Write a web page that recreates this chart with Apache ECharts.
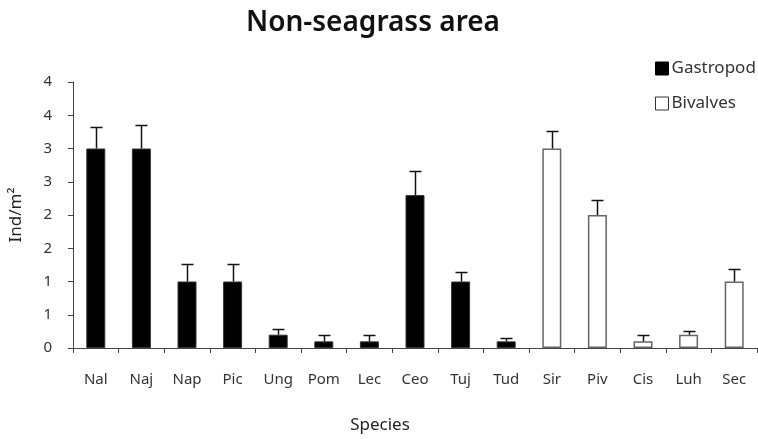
<!DOCTYPE html>
<html>
<head>
<meta charset="utf-8">
<script src="https://cdn.jsdelivr.net/npm/echarts@6/dist/echarts.min.js"></script>
<style>
  html, body { margin: 0; padding: 0; background: #fff; }
  #chart { width: 758px; height: 439px; }
</style>
</head>
<body>
<div id="chart"></div>
<script>
// species codes along x
var categories = ['Nal', 'Naj', 'Nap', 'Pic', 'Ung', 'Pom', 'Lec', 'Ceo', 'Tuj', 'Tud', 'Sir', 'Piv', 'Cis', 'Luh', 'Sec'];
// mean density (Ind/m2)
var gastropod = [3.0, 3.0, 1.0, 1.0, 0.2, 0.1, 0.1, 2.3, 1.0, 0.1, '-', '-', '-', '-', '-'];
var bivalves = ['-', '-', '-', '-', '-', '-', '-', '-', '-', '-', 3.0, 2.0, 0.1, 0.2, 1.0];
// error bar (upper half only)
var errors = [0.33, 0.36, 0.27, 0.26, 0.09, 0.1, 0.1, 0.36, 0.14, 0.05, 0.26, 0.22, 0.1, 0.06, 0.19];

var FONT = '"Noto Sans", "Open Sans", sans-serif';

function meanAt(i) {
  return gastropod[i] !== '-' ? gastropod[i] : bivalves[i];
}

var errData = categories.map(function (c, i) {
  return [i, meanAt(i), errors[i]];
});

var chart = echarts.init(document.getElementById('chart'));
chart.setOption({
  animation: false,
  title: {
    text: 'Non-seagrass area',
    left: 368,
    textAlign: 'center',
    top: 4,
    textStyle: { fontFamily: FONT, fontSize: 28, fontWeight: 600, color: '#111' }
  },
  legend: {
    orient: 'vertical',
    left: 650,
    top: 55,
    itemWidth: 13,
    itemHeight: 13,
    itemGap: 18,
    textStyle: { fontFamily: FONT, fontSize: 17, color: '#333', padding: [0, 0, 0, -2] },
    data: [
      { name: 'Gastropod', icon: 'rect', itemStyle: { color: '#000', borderColor: '#000', borderWidth: 1 } },
      { name: 'Bivalves', icon: 'rect', itemStyle: { color: '#fff', borderColor: '#333', borderWidth: 1 } }
    ]
  },
  grid: { left: 71, right: 1, top: 82, bottom: 83 },
  xAxis: {
    type: 'category',
    data: categories,
    name: 'Species',
    nameLocation: 'middle',
    nameGap: 69,
    nameTextStyle: { fontFamily: FONT, fontSize: 17, color: '#222', padding: [0, 70, 0, 0] },
    axisLine: { lineStyle: { color: '#444', width: 1 } },
    axisTick: { show: true, length: 5, lineStyle: { color: '#444' } },
    axisLabel: { fontFamily: FONT, fontSize: 15, color: '#333', margin: 24 }
  },
  yAxis: {
    type: 'value',
    min: 0,
    max: 4,
    interval: 0.5,
    name: 'Ind/m²',
    nameLocation: 'middle',
    nameGap: 48,
    nameRotate: 90,
    nameTextStyle: { fontFamily: FONT, fontSize: 17, color: '#222' },
    splitLine: { show: false },
    axisLine: { show: true, lineStyle: { color: '#444', width: 1 } },
    axisTick: { show: true, length: 5, lineStyle: { color: '#444' } },
    axisLabel: {
      fontFamily: FONT, fontSize: 15, color: '#333', margin: 21,
      formatter: function (v) { return String(Math.round(v)); }
    }
  },
  series: [
    {
      name: 'Gastropod',
      type: 'bar',
      data: gastropod,
      barWidth: 19,
      barGap: '-100%',
      itemStyle: { color: '#000', borderColor: '#333', borderWidth: 1 }
    },
    {
      name: 'Bivalves',
      type: 'bar',
      data: bivalves,
      barWidth: 19,
      itemStyle: { color: '#fff', borderColor: '#666', borderWidth: 1.5 }
    },
    {
      name: 'err',
      type: 'custom',
      data: errData,
      z: 5,
      renderItem: function (params, api) {
        var idx = api.value(0);
        var base = api.coord([idx, api.value(1)]);
        var top = api.coord([idx, api.value(1) + api.value(2)]);
        var x = Math.round(base[0]) + 0.5;
        var ty = Math.round(top[1]) + 0.5;
        var style = { stroke: '#111', lineWidth: 1.5 };
        return {
          type: 'group',
          children: [
            { type: 'line', shape: { x1: x, y1: base[1], x2: x, y2: ty }, style: style },
            { type: 'line', shape: { x1: x - 6, y1: ty, x2: x + 6, y2: ty }, style: style }
          ]
        };
      }
    }
  ]
});
</script>
</body>
</html>
